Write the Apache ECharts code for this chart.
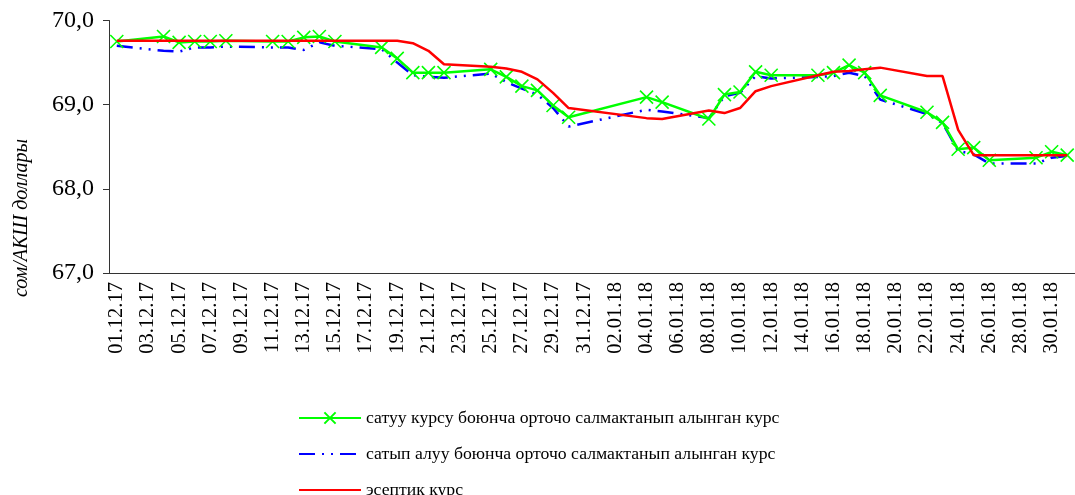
<!DOCTYPE html>
<html>
<head>
<meta charset="utf-8">
<script src="https://cdn.jsdelivr.net/npm/echarts@6/dist/echarts.min.js"></script>
<style>
html,body{margin:0;padding:0;background:#fff;}
#chart{width:1075px;height:495px;}
</style>
</head>
<body>
<div id="chart"></div>
<script>
const dates = [
 '01.12.17','02.12.17','03.12.17','04.12.17','05.12.17','06.12.17','07.12.17','08.12.17','09.12.17','10.12.17',
 '11.12.17','12.12.17','13.12.17','14.12.17','15.12.17','16.12.17','17.12.17','18.12.17','19.12.17','20.12.17',
 '21.12.17','22.12.17','23.12.17','24.12.17','25.12.17','26.12.17','27.12.17','28.12.17','29.12.17','30.12.17',
 '31.12.17','01.01.18','02.01.18','03.01.18','04.01.18','05.01.18','06.01.18','07.01.18','08.01.18','09.01.18',
 '10.01.18','11.01.18','12.01.18','13.01.18','14.01.18','15.01.18','16.01.18','17.01.18','18.01.18','19.01.18',
 '20.01.18','21.01.18','22.01.18','23.01.18','24.01.18','25.01.18','26.01.18','27.01.18','28.01.18','29.01.18',
 '30.01.18','31.01.18'
];
const yTicks = [67, 68, 69, 70];
const seriesNames = [
 'сатуу курсу боюнча орточо салмактанып алынган курс',
 'сатып алуу боюнча орточо салмактанып алынган курс',
 'эсептик курс'
];
const sellRate = [
 69.75,null,null,69.81,69.74,69.75,69.75,69.76,null,null,
 69.75,69.75,69.80,69.81,69.75,null,null,69.68,69.55,69.38,
 69.38,69.38,null,null,69.42,69.33,69.22,69.17,68.99,68.85,
 null,null,null,null,69.09,69.03,null,null,68.83,69.12,
 69.15,69.39,69.35,null,null,69.35,69.38,69.47,69.38,69.11,
 null,null,68.91,68.79,68.47,68.49,68.34,null,null,68.37,
 68.44,68.40
];
const buyRate = [
 69.70,null,null,69.64,69.63,69.68,69.68,69.69,null,null,
 69.68,69.68,69.65,69.74,69.70,null,null,69.66,69.50,69.35,
 69.33,69.32,null,null,69.37,69.27,69.19,69.12,68.96,68.74,
 null,null,null,null,68.94,68.92,null,null,68.84,69.10,
 69.14,69.34,69.31,null,null,69.33,69.34,69.38,69.34,69.06,
 null,null,68.89,68.78,68.45,68.41,68.30,null,null,68.30,
 68.37,68.39
];
const officialRate = [
 69.76,null,null,69.76,69.76,69.76,69.76,69.76,null,null,
 69.76,69.76,69.76,69.76,69.76,null,null,69.76,69.76,69.73,
 69.64,69.48,null,null,69.45,69.43,69.39,69.30,69.14,68.96,
 null,null,null,null,68.84,68.83,null,null,68.93,68.90,
 68.96,69.16,69.22,null,null,69.35,69.39,69.40,69.42,69.44,
 null,null,69.34,69.34,68.70,68.40,68.40,null,null,68.40,
 68.40,68.40
];

const FONT = "'Liberation Serif', 'Times New Roman', serif";
const chart = echarts.init(document.getElementById('chart'), null, {renderer:'canvas'});
const xMarker = 'path://M0,0L10,10M10,0L0,10';
const noIcon = { color: 'rgba(0,0,0,0)', borderColor: 'rgba(0,0,0,0)', borderWidth: 0 };

chart.setOption({
  animation: false,
  backgroundColor: '#fff',
  grid: { left: 109, top: 20.5, right: -8, bottom: 222, containLabel: false },
  graphic: [{
    type: 'text', x: 22, y: 218, rotation: Math.PI/2,
    style: { text: 'сом/АКШ доллары', font: 'italic 20px ' + FONT, fill: '#000',
             textAlign: 'center', textVerticalAlign: 'middle' }
  }],
  legend: {
    orient: 'vertical', left: 298, top: 408, height: 120, padding: 0,
    itemWidth: 62, itemHeight: 14, itemGap: 16,
    textStyle: { fontFamily: FONT, fontSize: 17.7, lineHeight: 20, color: '#000' },
    data: [
      { name: seriesNames[0] },
      { name: seriesNames[1], itemStyle: noIcon },
      { name: seriesNames[2], itemStyle: noIcon }
    ]
  },
  xAxis: {
    type: 'category', data: dates, boundaryGap: true,
    axisLine: { lineStyle: { color: '#333', width: 1 } },
    axisTick: { interval: 1, length: 5, lineStyle: { color: '#333' } },
    axisLabel: { interval: 1, rotate: 90, fontFamily: FONT, fontSize: 20.5, color: '#000', margin: 9 },
    splitLine: { show: false }
  },
  yAxis: {
    type: 'value', min: yTicks[0], max: yTicks[yTicks.length-1], interval: 1,
    axisLine: { show: true, lineStyle: { color: '#333', width: 1 } },
    axisTick: { show: true, length: 6, lineStyle: { color: '#333' } },
    axisLabel: { fontFamily: FONT, fontSize: 24, color: '#000', margin: 15,
                 formatter: v => v.toFixed(1).replace('.', ',') },
    splitLine: { show: false }
  },
  series: [
    { name: seriesNames[0], type: 'line', data: sellRate, connectNulls: true, z: 3,
      symbol: xMarker, symbolSize: 13, showSymbol: true, showAllSymbol: true,
      lineStyle: { color: '#00ff00', width: 2.5 },
      itemStyle: { color: '#00ff00', borderColor: '#00ff00', borderWidth: 1.6 } },
    { name: seriesNames[1], type: 'line', data: buyRate, connectNulls: true, z: 2,
      symbol: 'none',
      lineStyle: { color: '#0000ff', width: 2.5, type: [16, 7, 2, 7, 2, 7] },
      itemStyle: { color: '#0000ff' } },
    { name: seriesNames[2], type: 'line', data: officialRate, connectNulls: true, z: 4,
      symbol: 'none',
      lineStyle: { color: '#ff0000', width: 2.5 },
      itemStyle: { color: '#ff0000' } }
  ]
});
</script>
</body>
</html>
